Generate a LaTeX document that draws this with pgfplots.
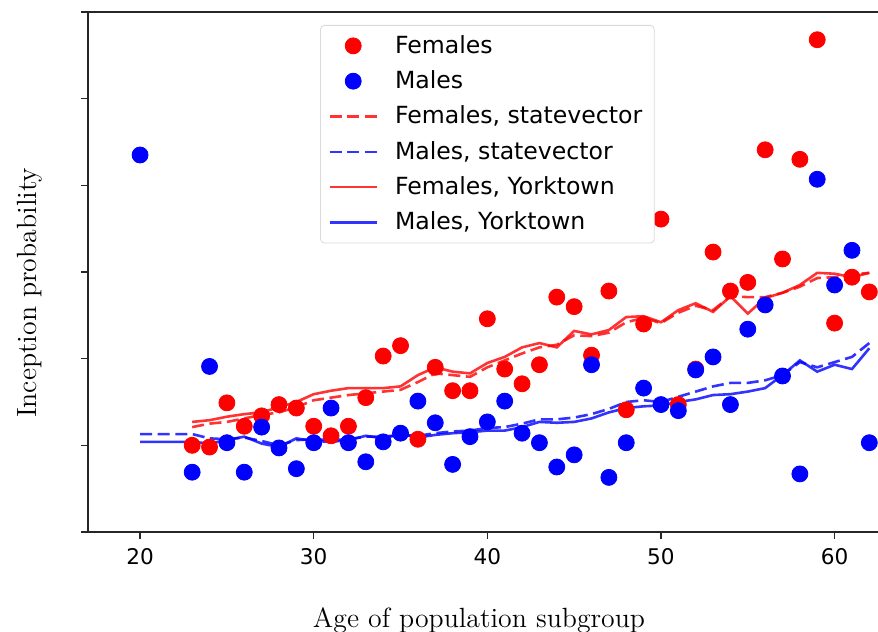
\documentclass[border=0pt]{standalone}
\usepackage{fontspec}
\usepackage{pgfplots}
\pgfplotsset{compat=1.18}
\usetikzlibrary{calc}
\newfontfamily\dejavu{DejaVu Sans}
\pgfplotsset{
  lineleg/.style={legend image code/.code={\draw[##1] (0pt,0pt) -- (23.5pt,0pt);}},
  dotleg/.style={legend image code/.code={\draw[##1] plot coordinates {(11.75pt,0pt)};}},
}
\definecolor{fred}{rgb}{1,0,0}
\definecolor{mblue}{rgb}{0,0,1}
\begin{document}
\begin{tikzpicture}
\begin{axis}[
  scale only axis,
  width=395pt, height=260pt,
  xmin=17, xmax=62.5, ymin=0, ymax=6,
  axis x line*=bottom, axis y line*=left,
  axis line style={-, draw=black!85, line width=0.6pt},
  xtick={20,30,40,50,60},
  ytick={0,1,2,3,4,5,6},
  yticklabels={},
  tick align=outside,
  major tick length=3.5pt,
  tick style={draw=black!85, line width=0.6pt},
  /pgf/number format/assume math mode=true,
  xticklabel style={font=\dejavu\fontsize{10.8}{13}\selectfont, yshift=-1pt},
  xlabel={Age of population subgroup},
  ylabel={Inception probability},
  label style={font=\fontsize{13.9}{16}\selectfont},
  xlabel style={at={(axis description cs:0.495,0)}, anchor=center, yshift=-44pt},
  ylabel style={at={(axis description cs:-0.0734,0.46)}, anchor=center},
  legend style={at={(rel axis cs:0.2937,0.975)}, anchor=north west,
    draw=black!15, rounded corners=2pt, fill=white,
    font=\dejavu\fontsize{11.8}{14}\selectfont,
    row sep=3.2pt, inner xsep=4pt, inner ysep=3pt,
    /tikz/every odd column/.append style={column sep=6.5pt}},
  legend cell align=left,
  clip=false,
]
\coordinate (bl) at (rel axis cs:0,0);
\coordinate (tr) at (rel axis cs:1,1);
\draw[draw=black!85, line width=0.6pt] (rel axis cs:0,1) -- (rel axis cs:1,1);

\addplot[only marks, mark=*, mark size=4pt, color=fred, mark options={solid, draw=fred, fill=fred}, dotleg] coordinates {
(23,1.00) (24,0.98) (25,1.49) (26,1.22) (27,1.34) (28,1.47) (29,1.43) (30,1.22)
(31,1.11) (32,1.22) (33,1.55) (34,2.03) (35,2.15) (36,1.07) (37,1.90) (38,1.63)
(39,1.63) (40,2.46) (41,1.88) (42,1.71) (43,1.93) (44,2.71) (45,2.60) (46,2.04)
(47,2.78) (48,1.41) (49,2.40) (50,3.61) (51,1.47) (52,1.88) (53,3.23) (54,2.78)
(55,2.88) (56,4.41) (57,3.15) (58,4.30) (59,5.68) (60,2.41) (61,2.94) (62,2.77)
};
\addlegendentry{Females}
\addplot[only marks, mark=*, mark size=4pt, color=mblue, mark options={solid, draw=mblue, fill=mblue}, dotleg] coordinates {
(20,4.35) (23,0.69) (24,1.91) (25,1.03) (26,0.69) (27,1.21) (28,0.97) (29,0.73)
(30,1.03) (31,1.43) (32,1.03) (33,0.81) (34,1.04) (35,1.14) (36,1.51) (37,1.26)
(38,0.78) (39,1.10) (40,1.27) (41,1.51) (42,1.14) (43,1.03) (44,0.75) (45,0.89)
(46,1.93) (47,0.63) (48,1.03) (49,1.66) (50,1.47) (51,1.40) (52,1.87) (53,2.02)
(54,1.47) (55,2.34) (56,2.62) (57,1.80) (58,0.67) (59,4.07) (60,2.85) (61,3.25)
(62,1.03)
};
\addlegendentry{Males}
\addplot[no marks, draw=fred, draw opacity=0.8, line width=1.3pt, dash pattern=on 6pt off 2.8pt, lineleg] coordinates {
(23,1.21) (24,1.25) (25,1.27) (26,1.31) (27,1.35) (28,1.38) (29,1.44) (30,1.52)
(31,1.55) (32,1.58) (33,1.60) (34,1.62) (35,1.64) (36,1.73) (37,1.83) (38,1.81)
(39,1.79) (40,1.90) (41,1.98) (42,2.06) (43,2.13) (44,2.16) (45,2.27) (46,2.26)
(47,2.30) (48,2.42) (49,2.47) (50,2.41) (51,2.53) (52,2.61) (53,2.56) (54,2.72)
(55,2.71) (56,2.71) (57,2.76) (58,2.83) (59,2.93) (60,2.94) (61,2.97) (62,2.99)
};
\addlegendentry{Females, statevector}
\addplot[no marks, draw=mblue, draw opacity=0.8, line width=1.3pt, dash pattern=on 6pt off 2.8pt, lineleg] coordinates {
(20,1.13) (23,1.13) (24,1.08) (25,1.07) (26,1.09) (27,1.05) (28,1.00) (29,1.06)
(30,1.07) (31,1.06) (32,1.07) (33,1.10) (34,1.10) (35,1.12) (36,1.11) (37,1.14)
(38,1.16) (39,1.17) (40,1.20) (41,1.21) (42,1.25) (43,1.30) (44,1.30) (45,1.32)
(46,1.36) (47,1.42) (48,1.50) (49,1.52) (50,1.50) (51,1.56) (52,1.62) (53,1.68)
(54,1.72) (55,1.72) (56,1.75) (57,1.81) (58,1.96) (59,1.90) (60,1.96) (61,2.02)
(62,2.18)
};
\addlegendentry{Males, statevector}
\addplot[no marks, draw=fred, draw opacity=0.8, line width=1.3pt, lineleg] coordinates {
(23,1.27) (24,1.29) (25,1.33) (26,1.36) (27,1.38) (28,1.44) (29,1.50) (30,1.59)
(31,1.63) (32,1.66) (33,1.66) (34,1.66) (35,1.68) (36,1.81) (37,1.90) (38,1.85)
(39,1.83) (40,1.95) (41,2.02) (42,2.13) (43,2.18) (44,2.13) (45,2.32) (46,2.28)
(47,2.33) (48,2.48) (49,2.49) (50,2.42) (51,2.56) (52,2.64) (53,2.54) (54,2.72)
(55,2.52) (56,2.70) (57,2.76) (58,2.85) (59,2.99) (60,2.98) (61,2.94) (62,2.99)
};
\addlegendentry{Females, Yorktown}
\addplot[no marks, draw=mblue, draw opacity=0.8, line width=1.3pt, lineleg] coordinates {
(20,1.04) (23,1.04) (24,1.02) (25,1.06) (26,1.10) (27,1.02) (28,0.98) (29,1.08)
(30,1.05) (31,1.04) (32,1.06) (33,1.11) (34,1.08) (35,1.13) (36,1.09) (37,1.12)
(38,1.14) (39,1.15) (40,1.17) (41,1.17) (42,1.21) (43,1.27) (44,1.26) (45,1.27)
(46,1.31) (47,1.38) (48,1.43) (49,1.45) (50,1.46) (51,1.50) (52,1.53) (53,1.58)
(54,1.59) (55,1.62) (56,1.66) (57,1.81) (58,1.98) (59,1.85) (60,1.93) (61,1.88)
(62,2.12)
};
\addlegendentry{Males, Yorktown}
\end{axis}
\pgfresetboundingbox
\path[use as bounding box] ($(bl)+(-44pt,-50pt)$) rectangle ($(tr)+(0pt,6pt)$);
\end{tikzpicture}
\end{document}
